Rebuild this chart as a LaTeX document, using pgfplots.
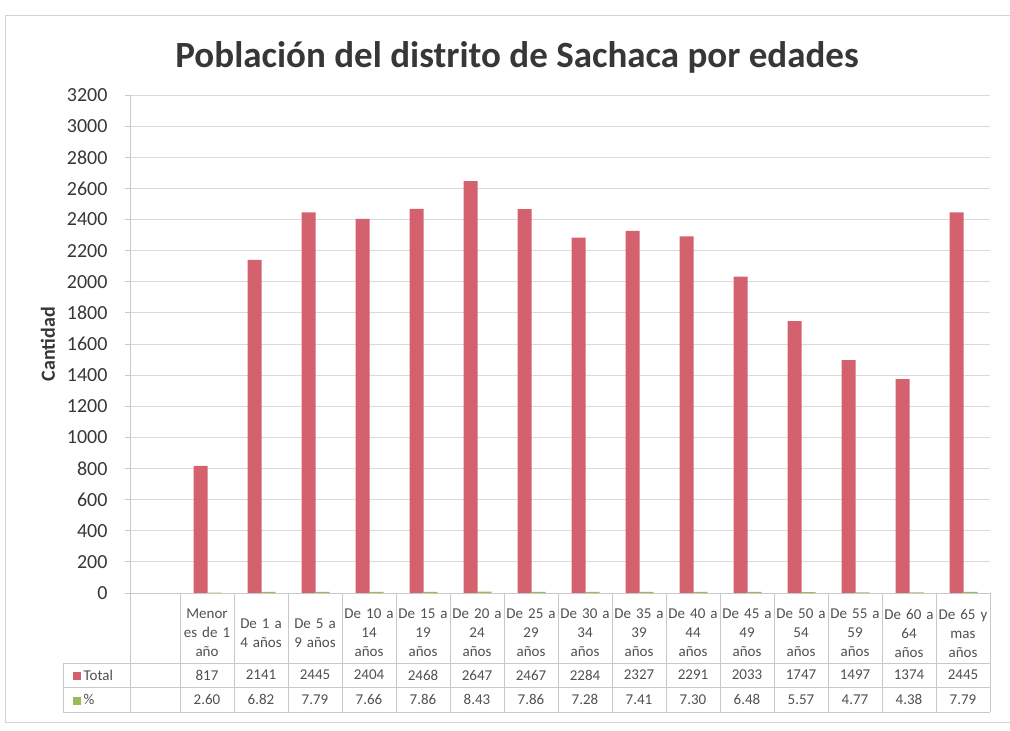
\documentclass[border=0pt]{standalone}
\usepackage{pgfplots}
\pgfplotsset{compat=1.18}
\usepackage{pgfplotstable}
\usepackage{fontspec}
\setmainfont{Carlito}
\definecolor{barred}{RGB}{212,98,110}
\definecolor{bargreen}{RGB}{155,187,89}
\definecolor{gridc}{RGB}{218,218,218}
\definecolor{txt}{RGB}{55,55,55}
\definecolor{tabtxt}{RGB}{80,80,80}
\definecolor{tabline}{RGB}{200,200,200}

\pgfplotstableread{
idx total pct
0 817 2.60
1 2141 6.82
2 2445 7.79
3 2404 7.66
4 2468 7.86
5 2647 8.43
6 2467 7.86
7 2284 7.28
8 2327 7.41
9 2291 7.30
10 2033 6.48
11 1747 5.57
12 1497 4.77
13 1374 4.38
14 2445 7.79
}\datatable

\begin{document}
\begin{tikzpicture}
\useasboundingbox (0,0) rectangle (1010pt,731pt);
\draw[gray!35, line width=0.8pt] (1010pt,716pt) -- (5pt,716pt) -- (5pt,9pt) -- (1010pt,9pt);
\begin{axis}[
  at={(130pt,138pt)}, anchor=south west,
  scale only axis, width=860pt, height=498pt,
  xmin=-1.426, xmax=14.5, ymin=0, ymax=3200,
  clip=false,
  axis x line*=bottom, axis y line*=left,
  axis line style={-, draw=tabline, line width=0.8pt},
  ytick={0,200,...,3200},
  ymajorgrids, grid style={draw=gridc, line width=0.8pt},
  ytick style={draw=tabline, line width=0.8pt},
  tick align=outside, major tick length=5pt,
  xtick={0,...,14}, xtick style={draw=none},
  xticklabels={
    {Menor\\es de 1\\año}, {De 1 a\\4 años}, {De 5 a\\9 años},
    {De 10 a\\14\\años}, {De 15 a\\19\\años}, {De 20 a\\24\\años},
    {De 25 a\\29\\años}, {De 30 a\\34\\años}, {De 35 a\\39\\años},
    {De 40 a\\44\\años}, {De 45 a\\49\\años}, {De 50 a\\54\\años},
    {De 55 a\\59\\años}, {De 60 a\\64\\años}, {De 65 y\\mas\\años}},
  xticklabel style={anchor=center, yshift=-35pt, text width=56pt, align=center,
    font=\fontsize{15}{19}\selectfont, text=tabtxt, inner sep=0pt},
  yticklabel style={font=\fontsize{20}{24}\selectfont, text=txt, xshift=-14pt},
  /pgf/number format/assume math mode=true,
  /pgf/number format/1000 sep={},
  scaled y ticks=false,
  ylabel={\bfseries Cantidad},
  ylabel style={font=\fontsize{20}{24}\selectfont, text=txt, yshift=5pt},
]
\addplot[ybar, bar width=14pt, bar shift=-6.5pt, fill=barred, draw=none]
  table[x=idx, y=total] \datatable;
\addplot[ybar, bar width=14pt, bar shift=7.5pt, fill=bargreen, draw=none]
  table[x=idx, y=pct] \datatable;
\addplot[draw=none, mark=none, point meta=explicit symbolic, nodes near coords,
  nodes near coords style={anchor=center, yshift=-82pt, font=\fontsize{15}{18}\selectfont, text=tabtxt}]
  table[x=idx, y expr=0, meta=total] \datatable;
\addplot[draw=none, mark=none, point meta=explicit symbolic, nodes near coords,
  nodes near coords style={anchor=center, yshift=-106.5pt, font=\fontsize{15}{18}\selectfont, text=tabtxt}]
  table[x=idx, y expr=0, meta=pct] \datatable;
% table grid
\pgfplotsinvokeforeach{0,...,15}{\draw[tabline, line width=0.8pt] (axis cs:#1-0.5,0) -- ++(0pt,-119pt);}
\draw[tabline, line width=0.8pt] (axis cs:-1.426,0) -- ++(0pt,-119pt);
\draw[tabline, line width=0.8pt] ([xshift=-67pt, yshift=-70pt]axis cs:-1.426,0) -- ([yshift=-70pt]axis cs:14.5,0);
\draw[tabline, line width=0.8pt] ([xshift=-67pt, yshift=-94pt]axis cs:-1.426,0) -- ([yshift=-94pt]axis cs:14.5,0);
\draw[tabline, line width=0.8pt] ([xshift=-67pt, yshift=-119pt]axis cs:-1.426,0) -- ([yshift=-119pt]axis cs:14.5,0);
\draw[tabline, line width=0.8pt] ([xshift=-67pt, yshift=-70pt]axis cs:-1.426,0) -- ++(0pt,-49pt);
% legend keys
\node[anchor=west, font=\fontsize{15}{17}\selectfont, text=tabtxt, inner sep=0pt]
  at ([xshift=-57pt, yshift=-82pt]axis cs:-1.426,0) {\textcolor{barred}{\rule{8pt}{8pt}}\,Total};
\node[anchor=west, font=\fontsize{15}{17}\selectfont, text=tabtxt, inner sep=0pt]
  at ([xshift=-57pt, yshift=-106.5pt]axis cs:-1.426,0) {\textcolor{bargreen}{\rule{8pt}{8pt}}\,\%};
\end{axis}
\node[font=\bfseries\fontsize{37}{43}\selectfont, text=txt] at (517pt,674pt)
  {Población del distrito de Sachaca por edades};
\end{tikzpicture}
\end{document}
